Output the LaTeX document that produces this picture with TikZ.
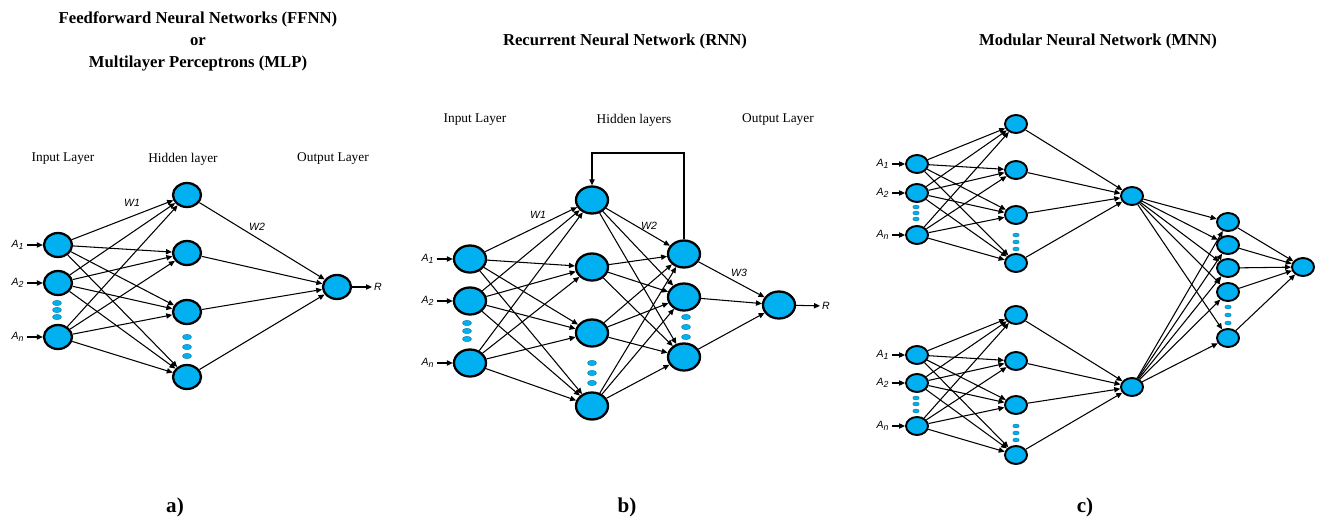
\documentclass[tikz,border=0pt]{standalone}
\usepackage{fontspec}
\setmainfont{Liberation Serif}
\setsansfont{Liberation Sans}
\usepackage{graphicx}
\usetikzlibrary{arrows.meta,shapes.geometric,positioning}
\definecolor{nnblue}{RGB}{0,176,240}
\newcommand{\Ain}[1]{\textsf{\itshape A}\textsubscript{\textsf{\itshape #1}}}
\tikzset{
  neuron/.style={ellipse, draw, fill=nnblue, line width=1.3pt, inner sep=0pt},
  neuron a/.style={neuron, minimum width=0.56cm, minimum height=0.48cm},
  neuron b/.style={neuron, minimum width=0.64cm, minimum height=0.54cm},
  neuron c/.style={neuron, line width=1.1pt, minimum width=0.44cm, minimum height=0.36cm},
  vdot/.style={ellipse, fill=nnblue, draw=nnblue!60!black, line width=0.2pt, inner sep=0pt, minimum width=0.18cm, minimum height=0.11cm},
  vdot c/.style={vdot, minimum width=0.13cm, minimum height=0.08cm},
  syn/.style={-{Triangle[length=3.4pt,width=3pt]}, line width=0.6pt},
  inlab/.style={inner sep=1pt, font=\fontsize{6}{7}\selectfont},
  wlab/.style={font=\fontsize{6}{7}\selectfont\sffamily\itshape},
  layer/.style={font=\fontsize{7.6}{9}\selectfont},
  title/.style={align=center, font=\fontsize{9.5}{12.5}\selectfont\bfseries},
  panel/.style={font=\fontsize{12}{14}\selectfont\bfseries}
}
\begin{document}
\begin{tikzpicture}[x=0.02cm, y=-0.02cm]
\useasboundingbox (0,0) rectangle (1320,520);
% a) feedforward network
\begin{scope}
\node[title] (ta) at (198,41) {Feedforward Neural Networks (FFNN)\\or\\Multilayer Perceptrons (MLP)};
\node[layer] (lia) at (63,159) {Input Layer};
\node[layer] (lha) at (183,159) {Hidden layer};
\node[layer] (loa) at (333,159) {Output Layer};
\foreach \n/\y in {1/245, 2/283, n/337} {
  \node[neuron a] (ia\n) at (58,\y) {};
  \node[inlab] (xa\n) at (18,\y) {\Ain{\n}};
  \draw[syn] (xa\n) -- (ia\n);
}
\foreach \y in {303,310,317} \node[vdot] (da\y) at (57,\y) {};
\foreach \h/\y in {1/195, 2/253, 3/312, 4/377} \node[neuron a] (ha\h) at (187,\y) {};
\foreach \y in {337,347,356} \node[vdot] (dha\y) at (187,\y) {};
\node[neuron a] (oa) at (337,287) {};
\node[inlab, anchor=west] (ra) at (372,287) {\textsf{\itshape R}};
\foreach \i in {1,2,n}
  \foreach \h in {1,...,4} \draw[syn] (ia\i) -- (ha\h);
\foreach \h in {1,...,4} \draw[syn] (ha\h) -- (oa);
\draw[syn] (oa) -- (ra);
\node[wlab] (w1a) at (132,203) {W1};
\node[wlab] (w2a) at (257,227) {W2};
\node[panel] (pa) at (175,507) {a)};
\end{scope}
% b) recurrent network
\begin{scope}
\node[title] (tb) at (625,41) {Recurrent Neural Network (RNN)};
\node[layer] (lib) at (475,120) {Input Layer};
\node[layer] (lhb) at (634,120) {Hidden layers};
\node[layer] (lob) at (778,120) {Output Layer};
\foreach \n/\y in {1/259, 2/301, n/363} {
  \node[neuron b] (ib\n) at (470,\y) {};
  \node[inlab] (xb\n) at (428,\y) {\Ain{\n}};
  \draw[syn] (xb\n) -- (ib\n);
}
\foreach \y in {323,331,339} \node[vdot] (db\y) at (467,\y) {};
\foreach \h/\y in {1/200, 2/267, 3/333, 4/406} \node[neuron b] (hb\h) at (592,\y) {};
\foreach \y in {363,373,383} \node[vdot] (dhb\y) at (592,\y) {};
\foreach \k/\y in {1/254, 2/297, 3/357} \node[neuron b] (kb\k) at (684,\y) {};
\foreach \y in {317,327,337} \node[vdot] (dkb\y) at (686,\y) {};
\node[neuron b] (ob) at (779,305) {};
\node[inlab, anchor=west] (rb) at (820,306) {\textsf{\itshape R}};
\foreach \i in {1,2,n}
  \foreach \h in {1,...,4} \draw[syn] (ib\i) -- (hb\h);
\foreach \h in {1,...,4}
  \foreach \k in {1,2,3} \draw[syn] (hb\h) -- (kb\k);
\foreach \k in {1,2,3} \draw[syn] (kb\k) -- (ob);
\draw[syn] (ob) -- (rb);
\coordinate (loop) at (684,153);
\draw[syn] (kb1) -- (loop) -| (hb1.north);
\node[wlab] (w1b) at (538,215) {W1};
\node[wlab] (w2b) at (649,226) {W2};
\node[wlab] (w3b) at (739,273) {W3};
\node[panel] (pb) at (627,507) {b)};
\end{scope}
% c) modular network
\begin{scope}
\node[title] (tc) at (1098,41) {Modular Neural Network (MNN)};
\foreach \g/\ya/\yb/\yn/\da/\db/\dc/\ha/\hb/\hc/\hd/\ea/\eb/\ec/\m in
  {u/164/193/235/207/213/219/124/170/215/263/235/242/249/196,
   l/355/383/426/398/404/411/315/361/405/455/426/433/440/387} {
  \foreach \n/\y in {1/\ya, 2/\yb, n/\yn} {
    \node[neuron c] (ic\g\n) at (917,\y) {};
    \node[inlab] (xc\g\n) at (883,\y) {\Ain{\n}};
    \draw[syn] (xc\g\n) -- (ic\g\n);
  }
  \foreach \y in {\da,\db,\dc} \node[vdot c] (dc\g\y) at (916,\y) {};
  \foreach \h/\y in {1/\ha, 2/\hb, 3/\hc, 4/\hd} \node[neuron c] (hc\g\h) at (1016,\y) {};
  \foreach \y in {\ea,\eb,\ec} \node[vdot c] (dhc\g\y) at (1016,\y) {};
  \node[neuron c] (mc\g) at (1132,\m) {};
  \foreach \i in {1,2,n}
    \foreach \h in {1,...,4} \draw[syn] (ic\g\i) -- (hc\g\h);
  \foreach \h in {1,...,4} \draw[syn] (hc\g\h) -- (mc\g);
}
\foreach \k/\y in {1/222, 2/245, 3/268, 4/292, 5/338} \node[neuron c] (kc\k) at (1228,\y) {};
\foreach \y in {307,315,323} \node[vdot c] (dkc\y) at (1228,\y) {};
\node[neuron c] (oc) at (1303,267) {};
\foreach \g in {u,l}
  \foreach \k in {1,...,5} \draw[syn] (mc\g) -- (kc\k);
\foreach \k in {1,...,5} \draw[syn] (kc\k) -- (oc);
\node[panel] (pc) at (1085,507) {c)};
\end{scope}
\end{tikzpicture}
\end{document}
